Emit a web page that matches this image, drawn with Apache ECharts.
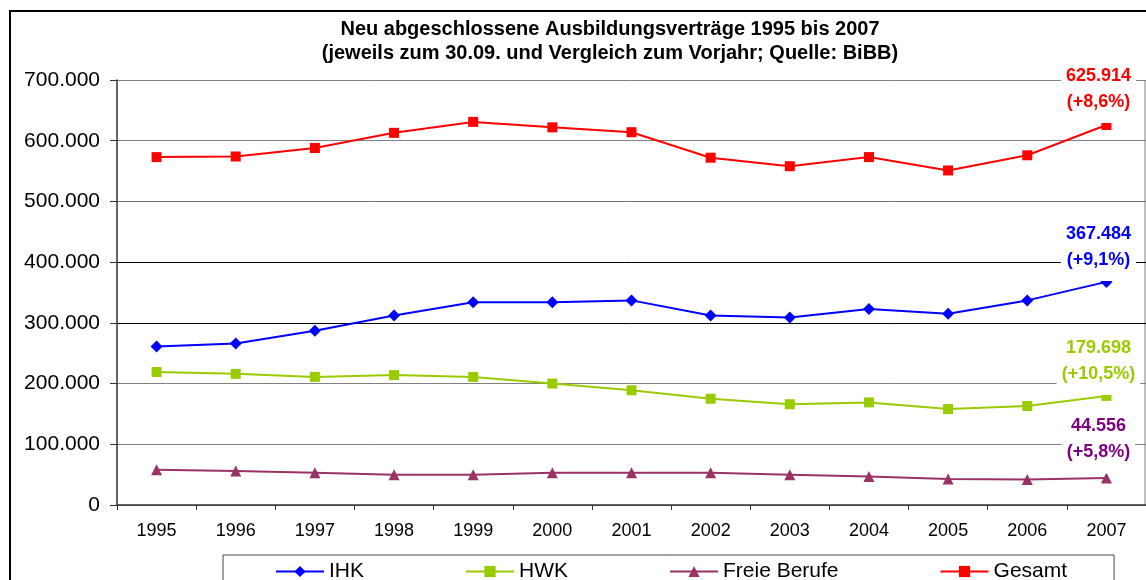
<!DOCTYPE html>
<html>
<head>
<meta charset="utf-8">
<script src="https://cdn.jsdelivr.net/npm/echarts@6/dist/echarts.min.js"></script>
<style>
html,body{margin:0;padding:0;background:#fff;}
#chart{width:1146px;height:580px;}
</style>
</head>
<body>
<div id="chart"></div>
<script>
const years = ['1995','1996','1997','1998','1999','2000','2001','2002','2003','2004','2005','2006','2007'];
const ihk = [261000, 266000, 287000, 312000, 334000, 334000, 337000, 312000, 309000, 323000, 315000, 337000, 367484];
const hwk = [219000, 216000, 211000, 214000, 211000, 200000, 189000, 175000, 166000, 169000, 158000, 163000, 179698];
const freieBerufe = [58000, 56000, 53000, 50000, 50000, 53000, 53000, 53000, 50000, 47000, 43000, 42000, 44556];
const gesamt = [573000, 574000, 588000, 613000, 631000, 622000, 614000, 572000, 558000, 573000, 551000, 576000, 625914];
const seriesNames = ['IHK', 'HWK', 'Freie Berufe', 'Gesamt'];
const changes = ['+9,1%', '+10,5%', '+5,8%', '+8,6%'];
const yTicks = [0, 100000, 200000, 300000, 400000, 500000, 600000, 700000];

const FONT = '"Liberation Sans", Arial, sans-serif';
function fmt(v) {
  return String(Math.round(v)).replace(/\B(?=(\d{3})+(?!\d))/g, '.');
}

const styles = [
  {color:'#0000FF', symbol:'diamond', size:12, labelColor:'#0000FF', dist:-5},
  {color:'#99CC00', symbol:'rect', size:10, labelColor:'#99CC00', dist:-4},
  {color:'#993366', symbol:'triangle', size:11, labelColor:'#800080', dist:-1},
  {color:'#FF0000', symbol:'rect', size:10, labelColor:'#FF0000', dist:-3}
];
const allData = [ihk, hwk, freieBerufe, gesamt];

const series = allData.map((vals, si) => {
  const st = styles[si];
  const last = vals.length - 1;
  return {
    name: seriesNames[si],
    type: 'line',
    symbol: st.symbol,
    symbolSize: st.size,
    itemStyle: {color: st.color},
    lineStyle: {color: st.color, width: 2},
    emphasis: {disabled: true},
    animation: false,
    data: vals.map((v, i) => i === last ? {
      value: v,
      label: {
        show: true,
        position: 'top',
        distance: st.dist,
        offset: [-8, 0],
        formatter: fmt(v) + '\n(' + changes[si] + ')',
        color: st.labelColor,
        fontFamily: FONT,
        fontWeight: 'bold',
        fontSize: 18,
        lineHeight: 26,
        align: 'center',
        backgroundColor: '#fff',
        padding: [2, 5, 8, 5]
      }
    } : v)
  };
});

const chart = echarts.init(document.getElementById('chart'), null, {renderer:'canvas'});
chart.setOption({
  animation: false,
  backgroundColor: '#fff',
  title: {
    text: 'Neu abgeschlossene Ausbildungsverträge 1995 bis 2007\n(jeweils zum 30.09. und Vergleich zum Vorjahr; Quelle: BiBB)',
    left: 605,
    top: 12,
    textAlign: 'center',
    textStyle: {fontFamily: FONT, fontWeight: 'bold', fontSize: 20, lineHeight: 24, color: '#000'}
  },
  legend: {
    data: seriesNames,
    left: 223,
    top: 555,
    itemWidth: 48,
    itemHeight: 14,
    itemGap: 101,
    padding: [6, 47, 30, 52],
    borderColor: '#444',
    borderWidth: 1,
    textStyle: {fontFamily: FONT, fontSize: 21, color: '#000'}
  },
  grid: {left: 117, right: 0, top: 80, bottom: 75, containLabel: false},
  xAxis: {
    type: 'category',
    data: years,
    boundaryGap: true,
    axisLine: {lineStyle: {color: '#333', width: 1.5}},
    axisTick: {show: true, length: 5, lineStyle: {color: '#333'}},
    axisLabel: {fontFamily: FONT, fontSize: 18, color: '#000', margin: 17}
  },
  yAxis: {
    type: 'value',
    min: yTicks[0],
    max: yTicks[yTicks.length - 1],
    interval: yTicks[1] - yTicks[0],
    axisLine: {show: true, lineStyle: {color: '#333', width: 1.5}},
    axisTick: {show: true, length: 7, lineStyle: {color: '#333'}},
    axisLabel: {fontFamily: FONT, fontSize: 21, color: '#000', margin: 17, formatter: v => fmt(v)},
    splitLine: {show: true, lineStyle: {color: ['#808080','#808080','#808080','#000','#000','#707070','#808080','#808080'], width: 1}}
  },
  graphic: [
    {type: 'rect', shape: {x: 10, y: 11, width: 1160, height: 600}, style: {fill: null, stroke: '#000', lineWidth: 2}, silent: true, z: 100},
    {type: 'line', shape: {x1: 1145, y1: 80, x2: 1145, y2: 505}, style: {stroke: '#808080', lineWidth: 1}, silent: true}
  ],
  series: series
});
</script>
</body>
</html>
